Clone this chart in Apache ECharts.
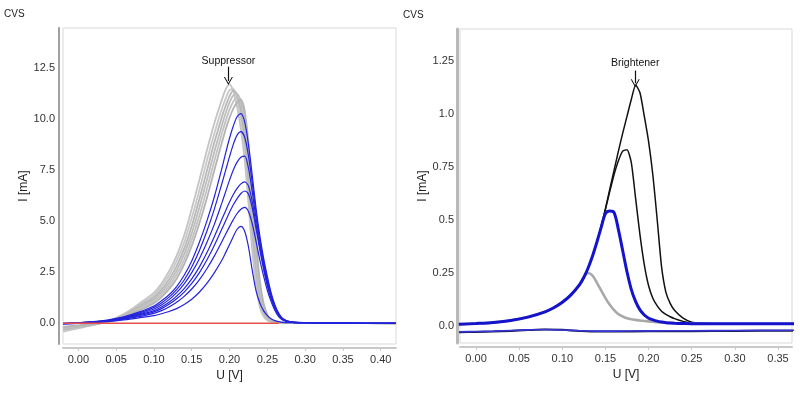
<!DOCTYPE html>
<html><head><meta charset="utf-8">
<script src="https://cdn.jsdelivr.net/npm/echarts@6.0.0/dist/echarts.min.js"></script>
<style>html,body{margin:0;padding:0;background:#fff}#c{width:800px;height:400px}</style>
</head><body><div id="c"></div>
<script>
// ---------- Left panel (Suppressor) ----------
const X_L = [-0.02, 0, 0.02, 0.04, 0.06, 0.08, 0.10, 0.11, 0.12, 0.13, 0.14, 0.15, 0.16, 0.17, 0.18, 0.19,
  0.195, 0.20, 0.205, 0.21, 0.215, 0.22, 0.225, 0.23, 0.235, 0.24, 0.245, 0.25, 0.255, 0.26, 0.265, 0.27,
  0.28, 0.30, 0.35, 0.42];
const G1 = [-0.40,-0.24,-0.08,0.12,0.45,0.95, 1.5,1.95,2.55,3.3,4.3,5.6,7.0,8.45,9.8,10.95,
  11.45,11.68,11.35,10.6,9.5,8.0,5.9,3.6,1.9,0.8,0.35,0.15,0.07,0.04,0.03,0.02, 0.02,0.01,0.01,0.0];
const G2 = [-0.34,-0.20,-0.07,0.11,0.42,0.88, 1.38,1.8,2.35,3.05,3.95,5.15,6.5,7.95,9.3,10.5,
  11.0,11.4,11.45,11.0,10.0,8.5,6.5,4.2,2.3,1.0,0.45,0.2,0.09,0.05,0.03,0.02, 0.02,0.01,0.01,0.0];
const G3 = [-0.29,-0.17,-0.06,0.10,0.4,0.82, 1.28,1.65,2.15,2.8,3.65,4.75,6.05,7.45,8.85,10.1,
  10.65,11.1,11.38,11.2,10.4,9.0,7.0,4.7,2.7,1.25,0.55,0.25,0.11,0.06,0.04,0.03, 0.02,0.01,0.01,0.0];
const G4 = [-0.25,-0.14,-0.05,0.09,0.36,0.75, 1.18,1.52,1.98,2.58,3.38,4.4,5.65,7.0,8.4,9.7,
  10.3,10.8,11.15,11.22,10.75,9.5,7.6,5.3,3.1,1.5,0.68,0.3,0.13,0.07,0.04,0.03, 0.02,0.01,0.01,0.0];
const G5 = [-0.21,-0.12,-0.04,0.08,0.33,0.68, 1.08,1.4,1.82,2.38,3.12,4.08,5.25,6.55,7.95,9.3,
  9.9,10.45,10.85,11.05,10.95,10.0,8.2,5.9,3.6,1.8,0.82,0.36,0.15,0.08,0.05,0.03, 0.02,0.01,0.01,0.0];
const G6 = [-0.17,-0.10,-0.03,0.07,0.3,0.62, 0.98,1.28,1.67,2.18,2.88,3.78,4.88,6.12,7.5,8.85,
  9.5,10.05,10.5,10.8,10.93,10.4,8.8,6.5,4.1,2.1,0.98,0.43,0.18,0.09,0.05,0.03, 0.02,0.01,0.01,0.0];
const B1 = [0.0,0.03,0.08,0.17,0.32,0.55, 0.85,1.1,1.4,1.8,2.35,3.05,3.95,5.0,6.2,7.6,
  8.35,9.05,9.65,10.1,10.25,9.85,8.75,7.25,5.65,4.3,3.2,2.3,1.5,0.9,0.5,0.25, 0.08,0.03,0.01,0.0];
const B2 = [0.0,0.03,0.07,0.15,0.29,0.5, 0.78,1.0,1.28,1.65,2.12,2.75,3.55,4.5,5.6,6.85,
  7.5,8.15,8.75,9.2,9.37,9.1,8.2,6.9,5.4,4.1,3.05,2.15,1.4,0.85,0.45,0.22, 0.07,0.03,0.01,0.0];
const B3 = [-0.01,0.02,0.07,0.14,0.27,0.45, 0.7,0.9,1.16,1.5,1.93,2.48,3.15,3.95,4.85,5.9,
  6.45,7.0,7.5,7.88,8.12,8.18,7.6,6.45,5.15,3.95,2.92,2.02,1.32,0.8,0.42,0.2, 0.07,0.03,0.01,0.0];
const B4 = [-0.01,0.02,0.06,0.13,0.25,0.41, 0.62,0.8,1.03,1.33,1.7,2.17,2.75,3.45,4.25,5.1,
  5.52,5.93,6.3,6.6,6.82,6.92,6.72,5.95,4.85,3.75,2.78,1.92,1.26,0.76,0.4,0.2, 0.06,0.03,0.01,0.0];
const B5 = [-0.02,0.01,0.06,0.12,0.23,0.37, 0.56,0.72,0.93,1.2,1.53,1.95,2.47,3.1,3.82,4.62,
  5.03,5.43,5.8,6.1,6.35,6.47,6.32,5.65,4.65,3.6,2.65,1.83,1.2,0.72,0.38,0.19, 0.06,0.03,0.01,0.0];
const B6 = [-0.02,0.01,0.05,0.11,0.21,0.33, 0.49,0.62,0.8,1.03,1.32,1.68,2.13,2.67,3.3,4.0,
  4.37,4.73,5.07,5.37,5.58,5.67,5.47,4.88,4.02,3.12,2.32,1.62,1.06,0.63,0.33,0.17, 0.06,0.03,0.01,0.0];
const B7 = [-0.03,0.0,0.04,0.09,0.17,0.27, 0.38,0.47,0.58,0.72,0.92,1.18,1.52,1.95,2.48,3.1,
  3.47,3.85,4.25,4.6,4.74,4.5,3.75,2.6,1.6,1.0,0.62,0.38,0.22,0.13,0.08,0.05, 0.03,0.02,0.01,0.0];
const RED_X = [-0.02, 0.265];
const RED_Y = [0.0, 0.0];
const X_TICKS_L = [0, 0.05, 0.10, 0.15, 0.20, 0.25, 0.30, 0.35, 0.40];
const Y_TICKS_L = [0, 2.5, 5.0, 7.5, 10.0, 12.5];
const ANNOT_L = { text: 'Suppressor', from: [0.1985, 12.55], to: [0.1985, 11.85] };

// ---------- Right panel (Brightener) ----------
const X_R = [-0.02, 0, 0.02, 0.04, 0.06, 0.08, 0.09, 0.10, 0.11, 0.12, 0.125, 0.13, 0.135, 0.14, 0.145, 0.15,
  0.155, 0.16, 0.165, 0.17, 0.175, 0.18, 0.185, 0.19, 0.195, 0.20, 0.205, 0.21, 0.215, 0.22, 0.225, 0.23,
  0.24, 0.25, 0.26, 0.28, 0.30, 0.37];
const GR = [0.008,0.012,0.017,0.026,0.042,0.067,0.086,0.112,0.147,0.195,0.232,0.25,0.238,0.205,0.168,0.132,
  0.1,0.075,0.056,0.045,0.037,0.032,0.029,0.026,0.024,0.022,0.02,0.018,0.017,0.016,0.015,0.014,
  0.013,0.012,0.011,0.011,0.011,0.011];
const BR = [0.008,0.012,0.017,0.026,0.042,0.067,0.086,0.112,0.147,0.195,0.23,0.275,0.33,0.395,0.465,0.53,
  0.542,0.535,0.455,0.355,0.255,0.172,0.115,0.076,0.052,0.037,0.029,0.023,0.019,0.016,0.014,0.013,
  0.012,0.011,0.011,0.011,0.011,0.011];
const K1 = [0.008,0.012,0.017,0.026,0.042,0.067,0.086,0.112,0.147,0.195,0.23,0.275,0.33,0.395,0.47,0.55,
  0.635,0.715,0.78,0.825,0.832,0.77,0.6,0.43,0.29,0.19,0.13,0.095,0.07,0.055,0.044,0.035,
  0.022,0.014,0.012,0.011,0.011,0.011];
const K2 = [0.008,0.012,0.017,0.026,0.042,0.067,0.086,0.112,0.147,0.195,0.23,0.275,0.33,0.395,0.47,0.555,
  0.645,0.735,0.825,0.91,0.99,1.07,1.137,1.1,0.99,0.87,0.71,0.5,0.28,0.16,0.107,0.075,
  0.037,0.018,0.013,0.011,0.011,0.011];
const X_RET = [-0.02, 0, 0.02, 0.04, 0.06, 0.08, 0.10, 0.12, 0.14, 0.16, 0.20, 0.25, 0.30, 0.37];
const RET_K = [-0.029,-0.028,-0.026,-0.023,-0.019,-0.016,-0.018,-0.023,-0.026,-0.026,-0.025,-0.024,-0.023,-0.022];
const RET_B = [-0.027,-0.026,-0.024,-0.021,-0.018,-0.016,-0.019,-0.022,-0.024,-0.024,-0.023,-0.022,-0.021,-0.020];
const X_TICKS_R = [0, 0.05, 0.10, 0.15, 0.20, 0.25, 0.30, 0.35];
const Y_TICKS_R = [0, 0.25, 0.5, 0.75, 1.0, 1.25];
const Y_LABELS_R = ['0.0', '0.25', '0.5', '0.75', '1.0', '1.25'];
const ANNOT_R = { text: 'Brightener', from: [0.1845, 1.205], to: [0.1845, 1.145] };

// ---------- build ----------
const FONT = '"Liberation Sans", Arial, sans-serif';
const CHEVRON = 'path://M0,10 L5,0 L10,10 L8.8,10 L5,2.4 L1.2,10 Z';
const pts = (xs, ys) => xs.map((x, i) => [x, ys[i]]);

function xAx(g, min, max, ticks, col, w, off, gap) {
  return { type: 'value', gridIndex: g, min: min, max: max, offset: off,
    name: 'U [V]', nameLocation: 'middle', nameGap: gap,
    nameTextStyle: { fontSize: 12, color: '#222', fontFamily: FONT },
    axisLine: { show: true, onZero: false, lineStyle: { color: col, width: w } },
    axisTick: { show: true, customValues: ticks, length: 3, lineStyle: { color: col, width: 1 } },
    axisLabel: { customValues: ticks, formatter: v => v.toFixed(2), fontSize: 11, color: '#333', fontFamily: FONT, margin: 6 },
    splitLine: { show: false } };
}
function yAx(g, min, max, ticks, fmt, col, w, off, gap, margin) {
  return { type: 'value', gridIndex: g, min: min, max: max, offset: off,
    name: 'I [mA]', nameLocation: 'middle', nameGap: gap,
    nameTextStyle: { fontSize: 12, color: '#222', fontFamily: FONT },
    axisLine: { show: true, onZero: false, lineStyle: { color: col, width: w } },
    axisTick: { show: false },
    axisLabel: { customValues: ticks, formatter: fmt, fontSize: 11, color: '#333', fontFamily: FONT, margin: margin },
    splitLine: { show: false } };
}
function line(g, xs, ys, color, width, z, smooth) {
  return { type: 'line', xAxisIndex: g, yAxisIndex: g, data: pts(xs, ys), showSymbol: false, symbol: 'none',
    smooth: smooth, lineStyle: { color: color, width: width }, z: z, silent: true };
}
function annot(a, dist) {
  return { silent: true, symbol: ['none', CHEVRON], symbolSize: [9, 8],
    lineStyle: { color: '#111', width: 1.2, type: 'solid' },
    label: { show: true, position: 'start', formatter: a.text, color: '#111', fontSize: 10.5, fontFamily: FONT, distance: dist },
    data: [[{ coord: a.from }, { coord: a.to }]] };
}

const series = [];
const grays = [G1, G2, G3, G4, G5, G6];
const grayCols = ['#c4c4c4', '#c8c8c8', '#b8b8b8', '#bdbdbd', '#c2c2c2', '#b4b4b4'];
grays.forEach((g, i) => series.push(line(0, X_L, g, grayCols[i], 1.8, 2, 0.3)));
[B1, B2, B3, B4, B5, B6, B7].forEach(b => series.push(line(0, X_L, b, '#2323dc', 1.2, 4, 0.3)));
series.push(line(0, RED_X, RED_Y, '#e8504c', 1.5, 6, false));
series[0].markLine = annot(ANNOT_L, 0);

series.push(line(1, X_RET, RET_K, '#1a1a3a', 2, 2, 0.3));
series.push(line(1, X_RET, RET_B, '#3434d8', 1.6, 3, 0.3));
series.push(line(1, X_R, K2, '#111111', 1.5, 3, 0.2));
series.push(line(1, X_R, K1, '#111111', 1.5, 3, 0.2));
series.push(line(1, X_R, GR, '#a9a9a9', 2.6, 4, 0.3));
series.push(line(1, X_R, BR, '#1414cc', 3, 5, 0.3));
series[series.length - 4].markLine = annot(ANNOT_R, 2);

const option = {
  animation: false,
  backgroundColor: '#ffffff',
  textStyle: { fontFamily: FONT },
  grid: [
    { left: 63, right: 404, top: 28, bottom: 56, show: true, borderColor: '#d9d9d9', borderWidth: 1, containLabel: false },
    { left: 460, right: 8, top: 29, bottom: 57, show: true, borderColor: '#d9d9d9', borderWidth: 1, containLabel: false }
  ],
  xAxis: [
    xAx(0, -0.0203, 0.4202, X_TICKS_L, '#c9c9c9', 2, 4, 22),
    xAx(1, -0.0186, 0.3662, X_TICKS_R, '#c9c9c9', 2, 4, 22)
  ],
  yAxis: [
    yAx(0, -1.01, 14.44, Y_TICKS_L, v => v.toFixed(1), '#a0a0a0', 2, 4, 25, 4),
    yAx(1, -0.080, 1.401, Y_TICKS_R, v => Y_LABELS_R[Y_TICKS_R.indexOf(v)], '#b9b9b9', 3, 3, 23, 3)
  ],
  graphic: [
    { type: 'text', left: 4, top: 9, style: { text: 'CVS', fontSize: 10, fill: '#222', fontFamily: FONT } },
    { type: 'text', left: 403, top: 10, style: { text: 'CVS', fontSize: 10, fill: '#222', fontFamily: FONT } }
  ],
  series: series
};
const chart = echarts.init(document.getElementById('c'), null, { renderer: 'canvas' });
chart.setOption(option);
</script>
</body></html>
